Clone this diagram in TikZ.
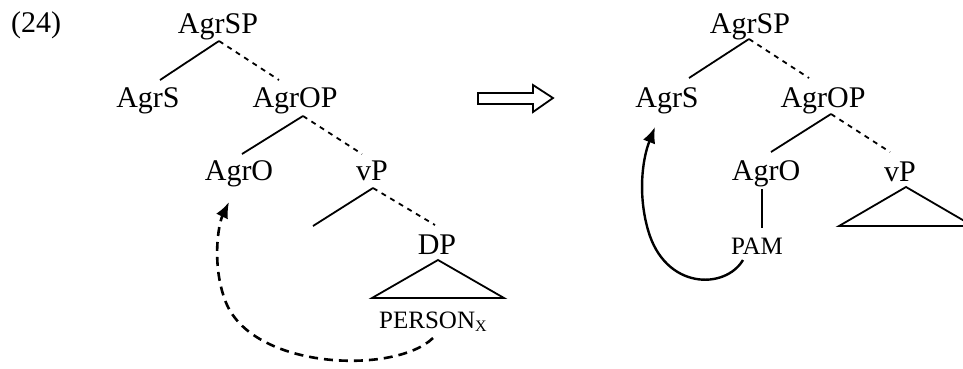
\documentclass[tikz,border=0pt]{standalone}
\usepackage{fontspec}
\setmainfont{Liberation Serif}
\usetikzlibrary{arrows.meta}
\begin{document}
\begin{tikzpicture}[x=1pt,y=-1pt,
  lbl/.style={anchor=base,inner sep=0pt,font=\fontsize{30}{36}\selectfont},
  sml/.style={anchor=base,inner sep=0pt,font=\fontsize{25}{30}\selectfont},
  br/.style={line width=1.8pt},
  dbr/.style={line width=1.8pt,dash pattern=on 5pt off 5pt},
  mv/.style={line width=2.6pt,dash pattern=on 9pt off 6pt,-{Latex[length=16pt,width=13pt]}},
  mvs/.style={line width=2.4pt,-{Latex[length=16pt,width=13pt]}}]
\useasboundingbox (0,0) rectangle (963,368);
\clip (0,0) rectangle (963,368);
% label
\node[lbl,anchor=base west] (ex) at (11,32) {(24)};
% left tree
\node[lbl] (lsp) at (218,33) {AgrSP};
\node[lbl] (ls) at (148,107) {AgrS};
\node[lbl] (lop) at (295,107) {AgrOP};
\node[lbl] (lo) at (239,180) {AgrO};
\node[lbl] (lvp) at (372,180) {vP};
\node[lbl] (ldp) at (437,254) {DP};
\node[sml,anchor=base west] (lper) at (379,328) {PERSON\textsubscript{\fontsize{16}{18}\selectfont X}};
\coordinate (la1) at (219,41); \coordinate (la1l) at (160,80); \coordinate (la1r) at (279,80);
\coordinate (la2) at (303,116); \coordinate (la2l) at (242,154); \coordinate (la2r) at (362,154);
\coordinate (la3) at (373,188); \coordinate (la3l) at (313,226); \coordinate (la3r) at (435,225);
\draw[br] (la1) -- (la1l); \draw[dbr] (la1) -- (la1r);
\draw[br] (la2) -- (la2l); \draw[dbr] (la2) -- (la2r);
\draw[br] (la3) -- (la3l); \draw[dbr] (la3) -- (la3r);
\coordinate (lt1) at (438,260); \coordinate (lt2) at (372,298); \coordinate (lt3) at (504,298);
\draw[br,line join=miter] (lt1) -- (lt2) -- (lt3) -- cycle;
\coordinate (lmv0) at (433,338); \coordinate (lmv1) at (225,300); \coordinate (lmv2) at (229,202);
\draw[mv] (lmv0) .. controls (395,375) and (250,370) .. (lmv1) .. controls (212,265) and (218,225) .. (lmv2);
% transformation arrow
\draw[line width=1.8pt,line join=miter] (478,93) -- (533,93) -- (533,85) -- (553,98) -- (533,112) -- (533,104) -- (478,104) -- cycle;
% right tree
\node[lbl] (rsp) at (750,33) {AgrSP};
\node[lbl] (rs) at (667,107) {AgrS};
\node[lbl] (rop) at (823,107) {AgrOP};
\node[lbl] (ro) at (766,180) {AgrO};
\node[lbl] (rvp) at (900,181) {vP};
\node[sml] (pam) at (757,254) {PAM};
\coordinate (ra1) at (749,39); \coordinate (ra1l) at (689,78); \coordinate (ra1r) at (809,78);
\coordinate (ra2) at (831,114); \coordinate (ra2l) at (771,152); \coordinate (ra2r) at (890,152);
\draw[br] (ra1) -- (ra1l); \draw[dbr] (ra1) -- (ra1r);
\draw[br] (ra2) -- (ra2l); \draw[dbr] (ra2) -- (ra2r);
\coordinate (rv1) at (762,189); \coordinate (rv2) at (762,228);
\draw[br] (rv1) -- (rv2);
\coordinate (rt1) at (906,187); \coordinate (rt2) at (839,226); \coordinate (rt3) at (973,226);
\draw[br,line join=miter] (rt1) -- (rt2) -- (rt3) -- cycle;
\coordinate (rmv0) at (743,260); \coordinate (rmv1) at (648,230); \coordinate (rmv2) at (655,127);
\draw[mvs] (rmv0) .. controls (725,290) and (665,290) .. (rmv1) .. controls (638,195) and (642,160) .. (rmv2);
\end{tikzpicture}
\end{document}
